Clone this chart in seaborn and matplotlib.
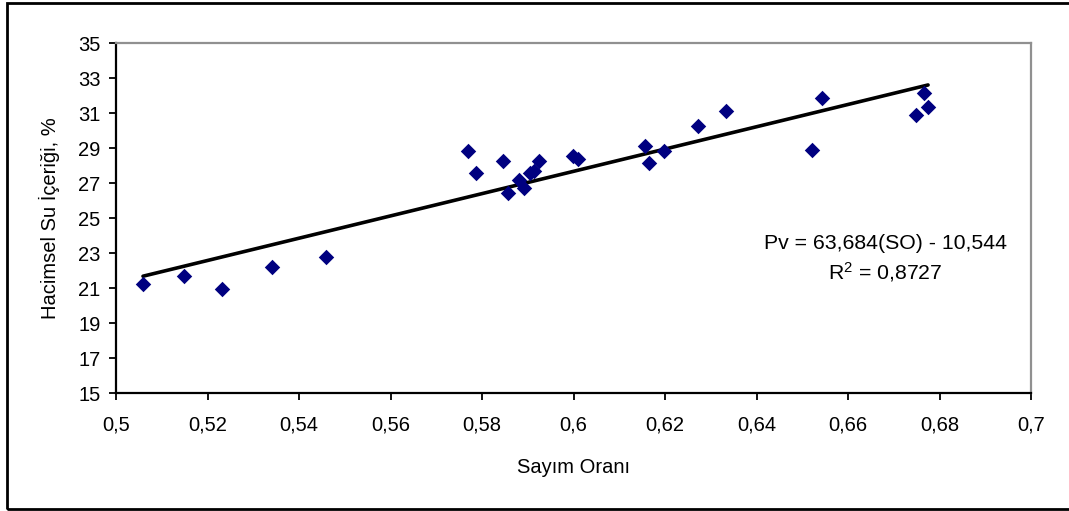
import matplotlib
matplotlib.use("Agg")
import matplotlib.pyplot as plt
import seaborn as sns
import numpy as np
import pandas as pd
from matplotlib.patches import Rectangle
from matplotlib.ticker import FuncFormatter, FixedLocator

# Data
sayim_orani = [0.5059, 0.5148, 0.5231, 0.5341, 0.5459,
               0.5769, 0.5786, 0.5845, 0.5856, 0.5880, 0.5891, 0.5906, 0.5913, 0.5924,
               0.5998, 0.6009, 0.6157, 0.6164, 0.6197, 0.6273, 0.6334,
               0.6522, 0.6544, 0.6749, 0.6766, 0.6775]
su_icerigi = [21.23, 21.69, 20.94, 22.20, 22.77,
              28.83, 27.57, 28.26, 26.43, 27.17, 26.71, 27.57, 27.69, 28.26,
              28.54, 28.37, 29.11, 28.14, 28.83, 30.26, 31.11,
              28.89, 31.86, 30.89, 32.14, 31.34]
x_ticks = [0.5, 0.52, 0.54, 0.56, 0.58, 0.6, 0.62, 0.64, 0.66, 0.68, 0.7]
y_ticks = [15, 17, 19, 21, 23, 25, 27, 29, 31, 33, 35]
slope = 63.684
intercept = -10.544
eq_text = "Pv = 63,684(SO) - 10,544"
r2_text = "R$^2$ = 0,8727"
x_label = "Sayım Oranı"
y_label = "Hacimsel Su İçeriği, %"

sns.set_theme(style="white")
plt.rcParams['font.family'] = ['Liberation Sans', 'DejaVu Sans']
plt.rcParams['mathtext.fontset'] = 'custom'
plt.rcParams['mathtext.rm'] = 'Liberation Sans'
plt.rcParams['mathtext.it'] = 'Liberation Sans'
plt.rcParams['mathtext.bf'] = 'Liberation Sans'

W, H = 1069, 511
fig = plt.figure(figsize=(W / 100, H / 100), dpi=100)
fig.patch.set_facecolor('white')
ax = fig.add_axes([116 / W, (H - 393) / H, (1031 - 116) / W, (393 - 43) / H])

df = pd.DataFrame({"SO": sayim_orani, "Pv": su_icerigi})
sns.scatterplot(data=df, x="SO", y="Pv", marker="D", color="#000080",
                s=62, linewidth=0, ax=ax, zorder=3)

xl = np.array([min(sayim_orani), max(sayim_orani)])
line_df = pd.DataFrame({"SO": xl, "Pv": slope * xl + intercept})
sns.lineplot(data=line_df, x="SO", y="Pv", color="black", linewidth=2.6, ax=ax, zorder=2)

ax.set_xlim(0.5, 0.7)
ax.set_ylim(15, 35)
ax.xaxis.set_major_locator(FixedLocator(x_ticks))
ax.yaxis.set_major_locator(FixedLocator(y_ticks))
fmt = FuncFormatter(lambda v, p: ("%g" % round(v, 4)).replace('.', ','))
ax.xaxis.set_major_formatter(fmt)
ax.yaxis.set_major_formatter(fmt)

for s in ['top', 'right']:
    ax.spines[s].set_color('#909090')
    ax.spines[s].set_linewidth(1.6)
for s in ['left', 'bottom']:
    ax.spines[s].set_color('black')
    ax.spines[s].set_linewidth(1.6)

ax.tick_params(axis='both', which='major', direction='out', length=5, width=1.3,
               color='black', labelsize=14.5, labelcolor='black')
ax.tick_params(axis='y', pad=6, left=True)
ax.tick_params(axis='x', pad=11, bottom=True)

ax.set_xlabel(x_label, fontsize=14.5, color='black', labelpad=17)
ax.set_ylabel(y_label, fontsize=14.5, color='black', labelpad=13)

fig.text(885 / W, 1 - 243 / H, eq_text, ha='center', va='center', fontsize=15.3, color='black')
fig.text(885 / W, 1 - 272 / H, r2_text, ha='center', va='center', fontsize=15.3, color='black')

fig.patches.append(Rectangle((7 / W, 2 / H), (1075 - 7) / W, (508 - 2) / H,
                             transform=fig.transFigure, fill=False,
                             edgecolor='black', linewidth=2))

fig.savefig("out.png", dpi=100)
